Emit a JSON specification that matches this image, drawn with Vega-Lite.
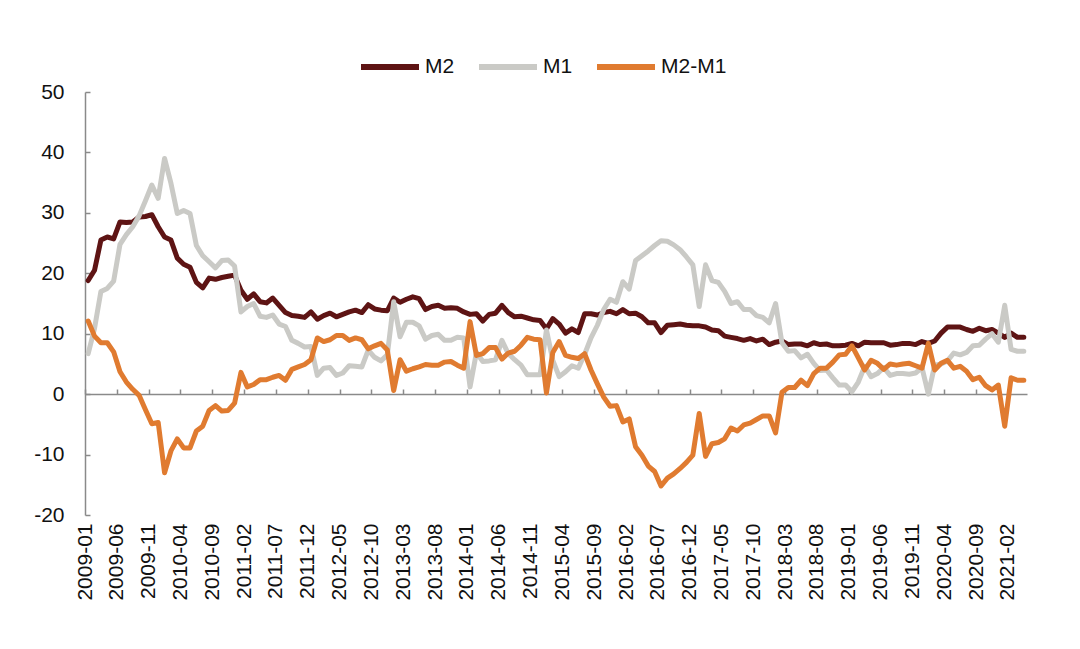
{
 "$schema": "https://vega.github.io/schema/vega-lite/v6.json",
 "width": 942, "height": 423,
 "autosize": {"type": "none"},
 "padding": {"left": 85, "top": 92, "right": 53, "bottom": 134},
 "background": "white",
 "config": {"view": {"stroke": null}, "font": "Liberation Sans"},
 "data": {"values": [
{"month":"2009-01","M2":18.8,"M1":6.7,"M2-M1":12.1},
{"month":"2009-02","M2":20.5,"M1":10.9,"M2-M1":9.6},
{"month":"2009-03","M2":25.5,"M1":17.0,"M2-M1":8.5},
{"month":"2009-04","M2":26.0,"M1":17.5,"M2-M1":8.5},
{"month":"2009-05","M2":25.7,"M1":18.7,"M2-M1":7.0},
{"month":"2009-06","M2":28.5,"M1":24.8,"M2-M1":3.7},
{"month":"2009-07","M2":28.4,"M1":26.4,"M2-M1":2.0},
{"month":"2009-08","M2":28.5,"M1":27.7,"M2-M1":0.8},
{"month":"2009-09","M2":29.3,"M1":29.5,"M2-M1":-0.2},
{"month":"2009-10","M2":29.4,"M1":32.0,"M2-M1":-2.6},
{"month":"2009-11","M2":29.7,"M1":34.6,"M2-M1":-4.9},
{"month":"2009-12","M2":27.7,"M1":32.4,"M2-M1":-4.7},
{"month":"2010-01","M2":26.0,"M1":39.0,"M2-M1":-13.0},
{"month":"2010-02","M2":25.5,"M1":34.9,"M2-M1":-9.4},
{"month":"2010-03","M2":22.5,"M1":29.9,"M2-M1":-7.4},
{"month":"2010-04","M2":21.5,"M1":30.4,"M2-M1":-8.9},
{"month":"2010-05","M2":21.0,"M1":29.9,"M2-M1":-8.9},
{"month":"2010-06","M2":18.5,"M1":24.6,"M2-M1":-6.1},
{"month":"2010-07","M2":17.6,"M1":22.9,"M2-M1":-5.3},
{"month":"2010-08","M2":19.2,"M1":21.9,"M2-M1":-2.7},
{"month":"2010-09","M2":19.0,"M1":20.9,"M2-M1":-1.9},
{"month":"2010-10","M2":19.3,"M1":22.1,"M2-M1":-2.8},
{"month":"2010-11","M2":19.5,"M1":22.2,"M2-M1":-2.7},
{"month":"2010-12","M2":19.7,"M1":21.2,"M2-M1":-1.5},
{"month":"2011-01","M2":17.2,"M1":13.6,"M2-M1":3.6},
{"month":"2011-02","M2":15.7,"M1":14.5,"M2-M1":1.2},
{"month":"2011-03","M2":16.6,"M1":15.0,"M2-M1":1.6},
{"month":"2011-04","M2":15.3,"M1":12.9,"M2-M1":2.4},
{"month":"2011-05","M2":15.1,"M1":12.7,"M2-M1":2.4},
{"month":"2011-06","M2":15.9,"M1":13.1,"M2-M1":2.8},
{"month":"2011-07","M2":14.7,"M1":11.6,"M2-M1":3.1},
{"month":"2011-08","M2":13.5,"M1":11.2,"M2-M1":2.3},
{"month":"2011-09","M2":13.0,"M1":8.9,"M2-M1":4.1},
{"month":"2011-10","M2":12.9,"M1":8.4,"M2-M1":4.5},
{"month":"2011-11","M2":12.7,"M1":7.8,"M2-M1":4.9},
{"month":"2011-12","M2":13.6,"M1":7.9,"M2-M1":5.7},
{"month":"2012-01","M2":12.4,"M1":3.1,"M2-M1":9.3},
{"month":"2012-02","M2":13.0,"M1":4.3,"M2-M1":8.7},
{"month":"2012-03","M2":13.4,"M1":4.4,"M2-M1":9.0},
{"month":"2012-04","M2":12.8,"M1":3.1,"M2-M1":9.7},
{"month":"2012-05","M2":13.2,"M1":3.5,"M2-M1":9.7},
{"month":"2012-06","M2":13.6,"M1":4.7,"M2-M1":8.9},
{"month":"2012-07","M2":13.9,"M1":4.6,"M2-M1":9.3},
{"month":"2012-08","M2":13.5,"M1":4.5,"M2-M1":9.0},
{"month":"2012-09","M2":14.8,"M1":7.3,"M2-M1":7.5},
{"month":"2012-10","M2":14.1,"M1":6.1,"M2-M1":8.0},
{"month":"2012-11","M2":13.9,"M1":5.5,"M2-M1":8.4},
{"month":"2012-12","M2":13.8,"M1":6.5,"M2-M1":7.3},
{"month":"2013-01","M2":15.9,"M1":15.3,"M2-M1":0.6},
{"month":"2013-02","M2":15.2,"M1":9.5,"M2-M1":5.7},
{"month":"2013-03","M2":15.7,"M1":11.9,"M2-M1":3.8},
{"month":"2013-04","M2":16.1,"M1":11.9,"M2-M1":4.2},
{"month":"2013-05","M2":15.8,"M1":11.3,"M2-M1":4.5},
{"month":"2013-06","M2":14.0,"M1":9.1,"M2-M1":4.9},
{"month":"2013-07","M2":14.5,"M1":9.7,"M2-M1":4.8},
{"month":"2013-08","M2":14.7,"M1":9.9,"M2-M1":4.8},
{"month":"2013-09","M2":14.2,"M1":8.9,"M2-M1":5.3},
{"month":"2013-10","M2":14.3,"M1":8.9,"M2-M1":5.4},
{"month":"2013-11","M2":14.2,"M1":9.4,"M2-M1":4.8},
{"month":"2013-12","M2":13.6,"M1":9.3,"M2-M1":4.3},
{"month":"2014-01","M2":13.2,"M1":1.2,"M2-M1":12.0},
{"month":"2014-02","M2":13.3,"M1":6.9,"M2-M1":6.4},
{"month":"2014-03","M2":12.1,"M1":5.4,"M2-M1":6.7},
{"month":"2014-04","M2":13.2,"M1":5.5,"M2-M1":7.7},
{"month":"2014-05","M2":13.4,"M1":5.7,"M2-M1":7.7},
{"month":"2014-06","M2":14.7,"M1":8.9,"M2-M1":5.8},
{"month":"2014-07","M2":13.5,"M1":6.7,"M2-M1":6.8},
{"month":"2014-08","M2":12.8,"M1":5.7,"M2-M1":7.1},
{"month":"2014-09","M2":12.9,"M1":4.8,"M2-M1":8.1},
{"month":"2014-10","M2":12.6,"M1":3.2,"M2-M1":9.4},
{"month":"2014-11","M2":12.3,"M1":3.2,"M2-M1":9.1},
{"month":"2014-12","M2":12.2,"M1":3.2,"M2-M1":9.0},
{"month":"2015-01","M2":10.8,"M1":10.6,"M2-M1":0.2},
{"month":"2015-02","M2":12.5,"M1":5.6,"M2-M1":6.9},
{"month":"2015-03","M2":11.6,"M1":2.9,"M2-M1":8.7},
{"month":"2015-04","M2":10.1,"M1":3.7,"M2-M1":6.4},
{"month":"2015-05","M2":10.8,"M1":4.7,"M2-M1":6.1},
{"month":"2015-06","M2":10.2,"M1":4.3,"M2-M1":5.9},
{"month":"2015-07","M2":13.3,"M1":6.6,"M2-M1":6.7},
{"month":"2015-08","M2":13.3,"M1":9.3,"M2-M1":4.0},
{"month":"2015-09","M2":13.1,"M1":11.4,"M2-M1":1.7},
{"month":"2015-10","M2":13.5,"M1":14.0,"M2-M1":-0.5},
{"month":"2015-11","M2":13.7,"M1":15.7,"M2-M1":-2.0},
{"month":"2015-12","M2":13.3,"M1":15.2,"M2-M1":-1.9},
{"month":"2016-01","M2":14.0,"M1":18.6,"M2-M1":-4.6},
{"month":"2016-02","M2":13.3,"M1":17.4,"M2-M1":-4.1},
{"month":"2016-03","M2":13.4,"M1":22.1,"M2-M1":-8.7},
{"month":"2016-04","M2":12.8,"M1":22.9,"M2-M1":-10.1},
{"month":"2016-05","M2":11.8,"M1":23.7,"M2-M1":-11.9},
{"month":"2016-06","M2":11.8,"M1":24.6,"M2-M1":-12.8},
{"month":"2016-07","M2":10.2,"M1":25.4,"M2-M1":-15.2},
{"month":"2016-08","M2":11.4,"M1":25.3,"M2-M1":-13.9},
{"month":"2016-09","M2":11.5,"M1":24.7,"M2-M1":-13.2},
{"month":"2016-10","M2":11.6,"M1":23.9,"M2-M1":-12.3},
{"month":"2016-11","M2":11.4,"M1":22.7,"M2-M1":-11.3},
{"month":"2016-12","M2":11.3,"M1":21.4,"M2-M1":-10.1},
{"month":"2017-01","M2":11.3,"M1":14.5,"M2-M1":-3.2},
{"month":"2017-02","M2":11.1,"M1":21.4,"M2-M1":-10.3},
{"month":"2017-03","M2":10.6,"M1":18.8,"M2-M1":-8.2},
{"month":"2017-04","M2":10.5,"M1":18.5,"M2-M1":-8.0},
{"month":"2017-05","M2":9.6,"M1":17.0,"M2-M1":-7.4},
{"month":"2017-06","M2":9.4,"M1":15.0,"M2-M1":-5.6},
{"month":"2017-07","M2":9.2,"M1":15.3,"M2-M1":-6.1},
{"month":"2017-08","M2":8.9,"M1":14.0,"M2-M1":-5.1},
{"month":"2017-09","M2":9.2,"M1":14.0,"M2-M1":-4.8},
{"month":"2017-10","M2":8.8,"M1":13.0,"M2-M1":-4.2},
{"month":"2017-11","M2":9.1,"M1":12.7,"M2-M1":-3.6},
{"month":"2017-12","M2":8.2,"M1":11.8,"M2-M1":-3.6},
{"month":"2018-01","M2":8.6,"M1":15.0,"M2-M1":-6.4},
{"month":"2018-02","M2":8.8,"M1":8.5,"M2-M1":0.3},
{"month":"2018-03","M2":8.2,"M1":7.1,"M2-M1":1.1},
{"month":"2018-04","M2":8.3,"M1":7.2,"M2-M1":1.1},
{"month":"2018-05","M2":8.3,"M1":6.0,"M2-M1":2.3},
{"month":"2018-06","M2":8.0,"M1":6.6,"M2-M1":1.4},
{"month":"2018-07","M2":8.5,"M1":5.1,"M2-M1":3.4},
{"month":"2018-08","M2":8.2,"M1":3.9,"M2-M1":4.3},
{"month":"2018-09","M2":8.3,"M1":4.0,"M2-M1":4.3},
{"month":"2018-10","M2":8.0,"M1":2.7,"M2-M1":5.3},
{"month":"2018-11","M2":8.0,"M1":1.5,"M2-M1":6.5},
{"month":"2018-12","M2":8.1,"M1":1.5,"M2-M1":6.6},
{"month":"2019-01","M2":8.4,"M1":0.4,"M2-M1":8.0},
{"month":"2019-02","M2":8.0,"M1":2.0,"M2-M1":6.0},
{"month":"2019-03","M2":8.6,"M1":4.6,"M2-M1":4.0},
{"month":"2019-04","M2":8.5,"M1":2.9,"M2-M1":5.6},
{"month":"2019-05","M2":8.5,"M1":3.4,"M2-M1":5.1},
{"month":"2019-06","M2":8.5,"M1":4.4,"M2-M1":4.1},
{"month":"2019-07","M2":8.1,"M1":3.1,"M2-M1":5.0},
{"month":"2019-08","M2":8.2,"M1":3.4,"M2-M1":4.8},
{"month":"2019-09","M2":8.4,"M1":3.4,"M2-M1":5.0},
{"month":"2019-10","M2":8.4,"M1":3.3,"M2-M1":5.1},
{"month":"2019-11","M2":8.2,"M1":3.5,"M2-M1":4.7},
{"month":"2019-12","M2":8.7,"M1":4.4,"M2-M1":4.3},
{"month":"2020-01","M2":8.4,"M1":0.0,"M2-M1":8.4},
{"month":"2020-02","M2":8.8,"M1":4.8,"M2-M1":4.0},
{"month":"2020-03","M2":10.1,"M1":5.0,"M2-M1":5.1},
{"month":"2020-04","M2":11.1,"M1":5.5,"M2-M1":5.6},
{"month":"2020-05","M2":11.1,"M1":6.8,"M2-M1":4.3},
{"month":"2020-06","M2":11.1,"M1":6.5,"M2-M1":4.6},
{"month":"2020-07","M2":10.7,"M1":6.9,"M2-M1":3.8},
{"month":"2020-08","M2":10.4,"M1":8.0,"M2-M1":2.4},
{"month":"2020-09","M2":10.9,"M1":8.1,"M2-M1":2.8},
{"month":"2020-10","M2":10.5,"M1":9.1,"M2-M1":1.4},
{"month":"2020-11","M2":10.7,"M1":10.0,"M2-M1":0.7},
{"month":"2020-12","M2":10.1,"M1":8.6,"M2-M1":1.5},
{"month":"2021-01","M2":9.4,"M1":14.7,"M2-M1":-5.3},
{"month":"2021-02","M2":10.1,"M1":7.4,"M2-M1":2.7},
{"month":"2021-03","M2":9.4,"M1":7.1,"M2-M1":2.3},
{"month":"2021-04","M2":9.4,"M1":7.1,"M2-M1":2.3}
 ]},
 "transform": [{"fold": ["M2", "M1", "M2-M1"], "as": ["series", "value"]}],
 "mark": {"type": "line", "strokeWidth": 5, "strokeJoin": "round", "strokeCap": "round"},
 "encoding": {
  "x": {"field": "month", "type": "ordinal", "scale": {"type": "point", "padding": 0.5},
   "axis": {"title": null,
    "values": ["2009-01","2009-06","2009-11","2010-04","2010-09","2011-02","2011-07","2011-12","2012-05","2012-10","2013-03","2013-08","2014-01","2014-06","2014-11","2015-04","2015-09","2016-02","2016-07","2016-12","2017-05","2017-10","2018-03","2018-08","2019-01","2019-06","2019-11","2020-04","2020-09","2021-02"],
    "offset": -121, "labelAngle": -90, "labelPadding": 134, "labelFontSize": 21, "labelFont": "Liberation Sans", "labelColor": "#111111",
    "tickSize": -5, "tickOffset": -3.18, "tickColor": "#8a8a8a", "tickWidth": 1.5,
    "domainColor": "#8a8a8a", "domainWidth": 1.5, "grid": false}},
  "y": {"field": "value", "type": "quantitative", "scale": {"domain": [-20, 50], "nice": false, "zero": false},
   "axis": {"title": null, "values": [-20, -10, 0, 10, 20, 30, 40, 50],
    "labelExpr": "datum.value < 0 ? '-' + abs(datum.value) : '' + datum.value",
    "labelFontSize": 21, "labelFont": "Liberation Sans", "labelColor": "#111111", "labelPadding": 26,
    "tickSize": -5, "tickColor": "#8a8a8a", "tickWidth": 1.5,
    "domainColor": "#8a8a8a", "domainWidth": 1.5, "grid": false}},
  "color": {"field": "series", "type": "nominal", "sort": ["M2", "M1", "M2-M1"],
   "scale": {"domain": ["M2", "M1", "M2-M1"], "range": ["#5E1414", "#CACAC6", "#E07B30"]},
   "legend": {"title": null, "orient": "none", "legendX": 273, "legendY": -57, "direction": "horizontal", "gridAlign": "none",
    "symbolType": "stroke", "symbolSize": 3364, "symbolStrokeWidth": 6,
    "labelFontSize": 21, "labelFont": "Liberation Sans", "labelColor": "#111111", "labelOffset": 3, "columnPadding": 12}}
 }
}
